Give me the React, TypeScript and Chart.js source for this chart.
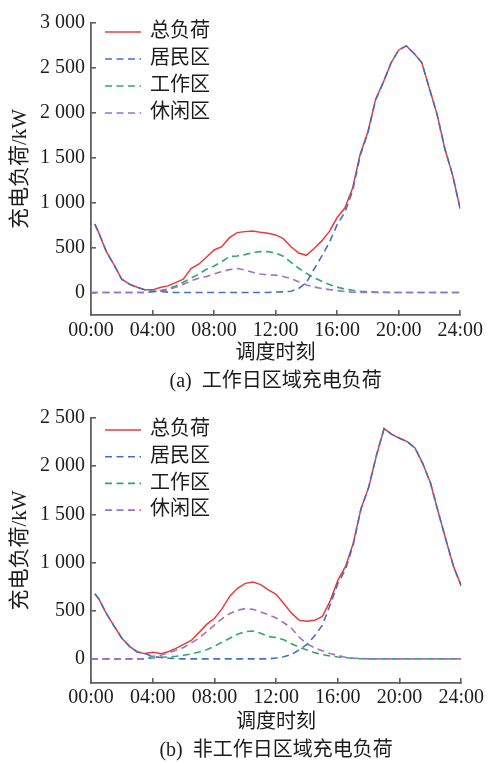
import React, { useEffect, useRef } from 'react';
import { Chart, registerables } from 'chart.js';

Chart.register(...registerables);

const FONT_FAMILY = "'Liberation Serif', 'Noto Sans CJK SC', serif";

// time of day in hours
const HOURS = [0, 0.25, 0.5, 1, 1.5, 2, 2.5, 3, 3.5, 4, 4.5, 5, 5.5, 6, 6.5, 7, 7.5, 8, 8.5, 9, 9.5, 10, 10.5, 11, 11.5, 12, 12.5, 13, 13.5, 14, 14.5, 15, 15.5, 16, 16.5, 17, 17.5, 18, 18.5, 19, 19.5, 20, 20.5, 21, 21.5, 22, 22.5, 23, 23.5, 24];
const X_TICKS = [0, 4, 8, 12, 16, 20, 24];
const Y_TICKS_A = [0, 500, 1000, 1500, 2000, 2500, 3000];
const Y_TICKS_B = [0, 500, 1000, 1500, 2000, 2500];
const SERIES_NAMES = ['总负荷', '居民区', '工作区', '休闲区'];
const X_TITLE = '调度时刻';
const Y_TITLE = '充电负荷/kW';
const CAPTION_A = '(a)  工作日区域充电负荷';
const CAPTION_B = '(b)  非工作日区域充电负荷';

// (a) working day, kW
const A_TOTAL = [null, 763, 667, 455, 307, 148, 93, 59, 30, 30, 56, 74, 111, 148, 267, 315, 393, 474, 511, 611, 667, 678, 685, 670, 660, 641, 600, 510, 440, 414, 490, 575, 680, 835, 940, 1160, 1542, 1790, 2150, 2340, 2555, 2700, 2745, 2660, 2560, 2270, 1980, 1600, 1310, 932];
const A_RESIDENT = [null, 763, 667, 455, 307, 148, 93, 59, 30, 15, 12, 5, 0, 0, 0, 0, 0, 0, 0, 0, 0, 0, 0, 0, 0, 5, 8, 15, 45, 110, 260, 405, 560, 755, 892, 1130, 1525, 1780, 2144, 2337, 2554, 2700, 2745, 2660, 2560, 2270, 1980, 1600, 1310, 932];
const A_WORK = [0, 0, 0, 0, 0, 0, 0, 0, 0, 10, 22, 40, 74, 115, 160, 204, 259, 296, 344, 400, 407, 422, 445, 455, 455, 440, 405, 335, 270, 215, 165, 125, 90, 60, 38, 25, 15, 10, 6, 3, 1, 0, 0, 0, 0, 0, 0, 0, 0, 0];
const A_LEISURE = [0, 0, 0, 0, 0, 0, 0, 0, 0, 8, 18, 30, 59, 93, 130, 160, 178, 207, 233, 255, 268, 252, 226, 207, 196, 194, 178, 155, 120, 85, 62, 45, 32, 22, 10, 4, 1, 0, 0, 0, 0, 0, 0, 0, 0, 0, 0, 0, 0, 0];

// (b) non-working day, kW
const B_TOTAL = [null, 675, 624, 470, 341, 215, 130, 72, 55, 68, 55, 75, 109, 150, 191, 273, 358, 419, 522, 651, 733, 784, 798, 771, 716, 670, 575, 475, 400, 390, 400, 441, 600, 815, 960, 1200, 1559, 1780, 2110, 2390, 2330, 2290, 2255, 2190, 2030, 1830, 1530, 1240, 960, 758];
const B_RESIDENT = [null, 675, 624, 470, 341, 215, 130, 72, 55, 25, 15, 8, 3, 0, 0, 0, 0, 0, 0, 0, 0, 0, 0, 0, 0, 10, 22, 45, 95, 150, 240, 350, 560, 780, 930, 1186, 1554, 1780, 2110, 2390, 2330, 2290, 2255, 2190, 2030, 1830, 1530, 1240, 960, 758];
const B_WORK = [0, 0, 0, 0, 0, 0, 0, 0, 0, 10, 17, 20, 27, 38, 51, 72, 95, 130, 174, 215, 256, 283, 290, 266, 232, 222, 198, 158, 120, 92, 65, 45, 30, 20, 12, 6, 2, 0, 0, 0, 0, 0, 0, 0, 0, 0, 0, 0, 0, 0];
const B_LEISURE = [0, 0, 0, 0, 0, 0, 0, 0, 0, 27, 38, 61, 89, 119, 164, 215, 283, 351, 419, 471, 505, 522, 515, 488, 460, 425, 375, 318, 225, 155, 115, 85, 55, 35, 18, 8, 3, 0, 0, 0, 0, 0, 0, 0, 0, 0, 0, 0, 0, 0];

const COLORS = ['#ee3a3c', '#4470c2', '#2fa86c', '#9b72c9'];
const DRAW_ORDER = [10, 0, 2, 1];
const DASH = [7, 4.5];
const AXIS_COLOR = '#5f5f5f';
const TEXT_COLOR = '#1c1c1c';

const insideLegend = {
  id: 'insideLegend',
  afterDatasetsDraw(chart: any, _args: any, opts: any) {
    const ctx = chart.ctx;
    ctx.save();
    chart.data.datasets.forEach((ds: any, i: number) => {
      const y = opts.y0 + i * opts.dy;
      ctx.beginPath();
      ctx.strokeStyle = ds.borderColor;
      ctx.lineWidth = ds.borderWidth;
      ctx.setLineDash(ds.borderDash || []);
      ctx.moveTo(opts.x0, y);
      ctx.lineTo(opts.x1, y);
      ctx.stroke();
      ctx.setLineDash([]);
      ctx.fillStyle = TEXT_COLOR;
      ctx.font = `20px ${FONT_FAMILY}`;
      ctx.textBaseline = 'middle';
      ctx.textAlign = 'left';
      ctx.fillText(ds.label, opts.tx, y);
    });
    ctx.restore();
  },
};

function fmtY(v: number) {
  if (v >= 1000) return `${Math.floor(v / 1000)} ${String(v % 1000).padStart(3, '0')}`;
  return String(v);
}

type PanelProps = {
  width: number;
  height: number;
  series: (number | null)[][];
  yMin: number;
  yMax: number;
  yTicks: number[];
  caption: string;
  padTop: number;
  padBottom: number;
  xHeight: number;
  xTickPad: number;
  legendY0: number;
  legendDy: number;
};

function Panel(p: PanelProps) {
  const ref = useRef<HTMLCanvasElement | null>(null);
  useEffect(() => {
    if (!ref.current) return;
    const datasets = p.series.map((vals, i) => ({
      label: SERIES_NAMES[i],
      data: HOURS.map((h, j) => ({ x: h, y: vals[j] })),
      borderColor: COLORS[i],
      backgroundColor: COLORS[i],
      borderWidth: i === 0 ? 1.5 : 1.6,
      borderDash: i === 0 ? [] : DASH,
      pointRadius: 0,
      tension: 0,
      fill: false,
      order: DRAW_ORDER[i],
    }));
    const chart = new Chart(ref.current, {
      type: 'line',
      data: { datasets },
      plugins: [insideLegend],
      options: {
        responsive: false,
        animation: false,
        events: [],
        layout: { padding: { top: p.padTop, right: 25, bottom: p.padBottom, left: 0 } },
        font: { family: FONT_FAMILY, size: 20 },
        plugins: {
          legend: { display: false },
          tooltip: { enabled: false },
          title: {
            display: true,
            text: p.caption,
            position: 'bottom',
            fullSize: false,
            color: TEXT_COLOR,
            font: { family: FONT_FAMILY, size: 20, weight: 'normal' },
            padding: { top: 4, bottom: 0 },
          },
          insideLegend: { x0: 105, x1: 141, tx: 150, y0: p.legendY0, dy: p.legendDy },
        } as any,
        scales: {
          x: {
            type: 'linear',
            min: 0,
            max: 24,
            afterFit: (s: any) => { s.height = p.xHeight; },
            afterBuildTicks: (s: any) => { s.ticks = X_TICKS.map((v) => ({ value: v })); },
            ticks: {
              color: TEXT_COLOR,
              font: { family: FONT_FAMILY, size: 20 },
              padding: p.xTickPad,
              maxRotation: 0,
              autoSkip: false,
              callback: (v: any) => `${String(v).padStart(2, '0')}:00`,
            },
            grid: { display: true, drawOnChartArea: false, drawTicks: true, tickLength: -5, color: AXIS_COLOR, lineWidth: 1.6 },
            border: { display: true, color: AXIS_COLOR, width: 1.8 },
            title: {
              display: true,
              text: X_TITLE,
              color: TEXT_COLOR,
              font: { family: FONT_FAMILY, size: 20 },
              padding: { top: 0, bottom: 0 },
            },
          },
          y: {
            type: 'linear',
            min: p.yMin,
            max: p.yMax,
            afterFit: (s: any) => { s.width = 91; },
            afterBuildTicks: (s: any) => { s.ticks = p.yTicks.map((v) => ({ value: v })); },
            ticks: {
              color: TEXT_COLOR,
              font: { family: FONT_FAMILY, size: 20 },
              padding: 11,
              autoSkip: false,
              callback: (v: any) => fmtY(Number(v)),
            },
            grid: { display: true, drawOnChartArea: false, drawTicks: true, tickLength: -5, color: AXIS_COLOR, lineWidth: 1.6 },
            border: { display: true, color: AXIS_COLOR, width: 1.8 },
            title: {
              display: true,
              text: Y_TITLE,
              color: TEXT_COLOR,
              font: { family: FONT_FAMILY, size: 21 },
              padding: { top: 7.4, bottom: 0 },
            },
          },
        },
      } as any,
    });
    return () => chart.destroy();
  }, []);
  return <canvas ref={ref} width={p.width} height={p.height} style={{ display: 'block', width: p.width, height: p.height }} />;
}

export default function App() {
  return (
    <div style={{ position: 'absolute', left: 0, top: 0, width: 492, height: 763, background: '#fff', overflow: 'hidden' }}>
      <Panel
        width={492}
        height={395}
        series={[A_TOTAL, A_RESIDENT, A_WORK, A_LEISURE]}
        yMin={-250}
        yMax={3000}
        yTicks={Y_TICKS_A}
        caption={CAPTION_A}
        padTop={22}
        padBottom={1}
        xHeight={51}
        xTickPad={9}
        legendY0={32}
        legendDy={27}
      />
      <Panel
        width={492}
        height={368}
        series={[B_TOTAL, B_RESIDENT, B_WORK, B_LEISURE]}
        yMin={-250}
        yMax={2500}
        yTicks={Y_TICKS_B}
        caption={CAPTION_B}
        padTop={18}
        padBottom={0}
        xHeight={52}
        xTickPad={8}
        legendY0={35}
        legendDy={26.7}
      />
    </div>
  );
}
